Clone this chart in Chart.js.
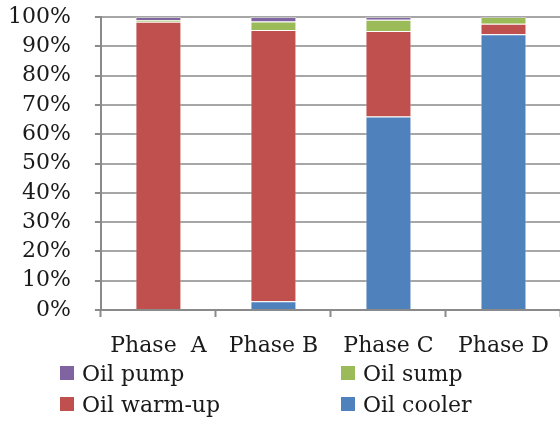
<!DOCTYPE html>
<html>
<head>
<meta charset="utf-8">
<script src="https://cdn.jsdelivr.net/npm/chart.js@4/dist/chart.umd.min.js"></script>
<style>
  html, body { margin: 0; padding: 0; background: #fff; overflow: hidden; }
  #wrap { position: absolute; left: -20px; top: -18px; width: 587px; height: 393px; }
  #legend {
    position: absolute;
    left: 60px;
    top: 360px;
    display: grid;
    grid-template-columns: 281px 200px;
    row-gap: 5px;
    font-family: "DejaVu Serif", serif;
    font-size: 22px;
    color: #1a1a1a;
  }
  #legend .item { display: flex; align-items: center; height: 26px; }
  #legend .box { width: 14px; height: 14px; margin-right: 8px; }
</style>
</head>
<body>
<div id="wrap"><canvas id="chart"></canvas></div>
<div id="legend"></div>
<script>
const categories = ['Phase  A', 'Phase B', 'Phase C', 'Phase D']
const oilCooler = [0, 3.0, 66.0, 94.1]
const oilWarmUp = [98.4, 92.6, 29.2, 3.6]
const oilSump = [0.6, 2.9, 3.9, 2.3]
const oilPump = [1.0, 1.5, 0.9, 0]
const yTicks = [0, 10, 20, 30, 40, 50, 60, 70, 80, 90, 100]

const seriesNames = ['Oil cooler', 'Oil warm-up', 'Oil sump', 'Oil pump']
const seriesColors = ['#4F81BD', '#C0504D', '#9BBB59', '#8064A2']
const seriesData = [oilCooler, oilWarmUp, oilSump, oilPump]

const axisColor = '#8a8a8a'
const gridColor = '#a6a6a6'
const font = { family: '"DejaVu Serif", serif', size: 22, lineHeight: 1 }

const datasets = seriesData.map((data, i) => ({
  label: seriesNames[i],
  data: data,
  backgroundColor: seriesColors[i],
  borderColor: 'rgba(255,255,255,0.35)',
  borderWidth: 1,
  categoryPercentage: 1,
  barPercentage: 0.4
}))

const chart = new Chart(document.getElementById('chart'), {
  type: 'bar',
  data: { labels: categories, datasets: datasets },
  options: {
    responsive: true,
    maintainAspectRatio: false,
    animation: false,
    layout: { padding: { top: 0, left: 4, right: 0, bottom: 0 } },
    plugins: {
      legend: { display: false }, // legend drawn in html below
      tooltip: { enabled: false }
    },
    scales: {
      x: {
        stacked: true,
        ticks: { font: font, color: '#1a1a1a', padding: 18 },
        grid: {
          drawOnChartArea: false,
          drawTicks: true,
          tickLength: 7,
          tickWidth: 2,
          color: axisColor,
          offset: true
        },
        border: { color: axisColor, width: 2 }
      },
      y: {
        stacked: true,
        min: 0,
        max: 100,
        afterBuildTicks: (axis) => {
          axis.ticks = yTicks.map(v => ({ value: v }))
        },
        ticks: {
          font: font,
          color: '#1a1a1a',
          padding: 24,
          autoSkip: false,
          callback: (value) => value + '%'
        },
        grid: {
          color: gridColor,
          lineWidth: 2,
          tickLength: 6,
          tickColor: axisColor
        },
        border: { color: axisColor, width: 2 }
      }
    }
  }
})

// legend: reversed order, two columns
const legendEl = document.getElementById('legend')
const order = [3, 2, 1, 0]
order.forEach(i => {
  const item = document.createElement('div')
  item.className = 'item'
  item.innerHTML = '<span class="box" style="background:' + seriesColors[i] + '"></span>' + seriesNames[i]
  legendEl.appendChild(item)
})
</script>
</body>
</html>
